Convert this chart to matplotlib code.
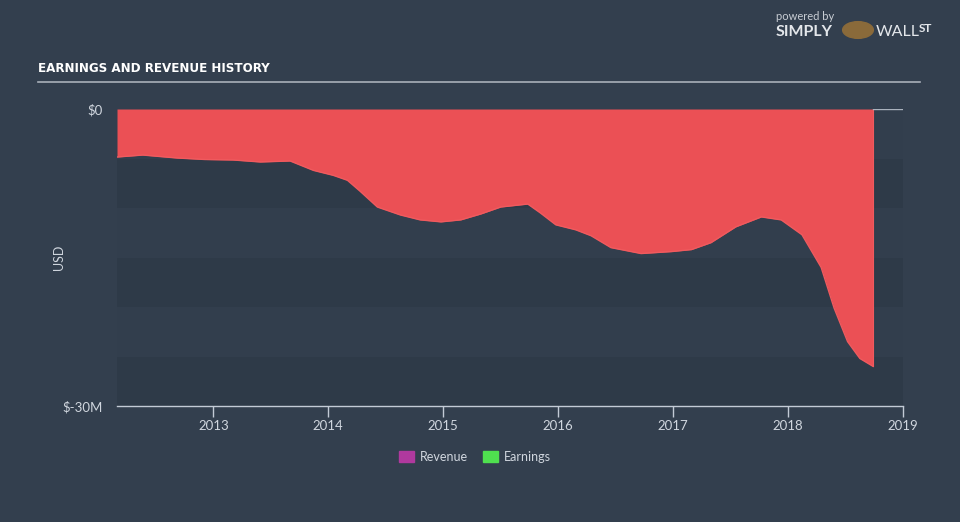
import matplotlib
matplotlib.use("Agg")
import matplotlib.pyplot as plt
import numpy as np
import pandas as pd

# ---- data (USD millions) ----
dates = ["2012-03-01", "2012-05-22", "2012-07-15", "2012-09-08", "2012-12-05",
         "2013-03-05", "2013-05-30", "2013-09-02", "2013-11-15", "2014-01-17",
         "2014-03-03", "2014-04-12", "2014-06-06", "2014-08-18", "2014-10-20",
         "2014-12-25", "2015-02-26", "2015-05-01", "2015-07-03", "2015-09-27",
         "2015-11-06", "2015-12-25", "2016-02-26", "2016-04-15", "2016-06-17",
         "2016-09-21", "2016-12-27", "2017-02-28", "2017-05-01", "2017-07-19",
         "2017-10-08", "2017-12-10", "2018-02-14", "2018-04-16", "2018-05-27",
         "2018-07-09", "2018-08-17", "2018-09-28"]
earnings = [-4.85, -4.65, -4.8, -4.95, -5.1,
            -5.15, -5.35, -5.25, -6.2, -6.7,
            -7.2, -8.3, -9.9, -10.7, -11.2,
            -11.4, -11.2, -10.6, -9.9, -9.6,
            -10.5, -11.7, -12.2, -12.8, -14.0,
            -14.6, -14.4, -14.2, -13.5, -11.9,
            -10.9, -11.2, -12.7, -16.0, -20.1,
            -23.5, -25.2, -26.0]
year_ticks = ["2013", "2014", "2015", "2016", "2017", "2018", "2019"]
y_ticks = [0, -30]
y_tick_labels = ["$0", "$-30M"]
legend_labels = ["Revenue", "Earnings"]
legend_colors = ["#b0399e", "#4fe04f"]

BG = "#333f4e"
BAND = "#2e3a48"
RED = "#eb5055"
TXT = "#d0d6de"

d = pd.to_datetime(dates)
x_start = pd.Timestamp("2012-03-01")
x_end = pd.Timestamp("2019-01-01")

fig = plt.figure(figsize=(9.6, 5.22), dpi=100, facecolor=BG)
ax = fig.add_axes([117/960, 1-406/522, (903-117)/960, (406-109)/522])
ax.set_facecolor("#323e4d")

# alternating bands
for lo in (-10, -20, -30):
    ax.axhspan(lo, lo + 5, color=BAND, lw=0, zorder=0)

ax.fill_between(d, 0, earnings, color=RED, lw=0, zorder=2)
ax.plot(d, earnings, color="#f05a5e", lw=1.0, zorder=3, solid_joinstyle="round")
ax.plot([d[-1], d[-1]], [0, earnings[-1]], color="#f05a5e", lw=0.8, zorder=3)
ax.plot([d[-1], x_end], [0, 0], color="#aab2bd", lw=1.0, zorder=3)

ax.set_xlim(x_start, x_end)
ax.set_ylim(-30, 0)

for s in ["top", "right", "left"]:
    ax.spines[s].set_visible(False)
ax.spines["bottom"].set_color("#c3cbd6")
ax.spines["bottom"].set_linewidth(1.0)

ax.set_xticks([pd.Timestamp(f"{y}-01-01") for y in year_ticks])
ax.set_xticklabels(year_ticks)
ax.tick_params(axis="x", colors="#c3cbd6", length=8, width=1, labelcolor=TXT,
               labelsize=9.5, pad=2)
ax.set_yticks(y_ticks)
ax.set_yticklabels(y_tick_labels)
ax.tick_params(axis="y", length=0, labelcolor=TXT, labelsize=9.5, pad=10)
for lab in ax.get_xticklabels() + ax.get_yticklabels():
    lab.set_family("Lato")

ax.set_ylabel("USD", color=TXT, fontsize=9, family="Lato")
ax.yaxis.set_label_coords((65 - 117) / 786, 0.5)

# title
fig.text(38/960, 1-68/522, "EARNINGS AND REVENUE HISTORY", color="white",
         fontsize=9.5, fontweight="bold", family="DejaVu Sans", stretch="condensed",
         va="center", ha="left")
fig.add_artist(plt.Line2D([38/960, 920/960], [1-82/522, 1-82/522],
                          color="#a9b0ba", lw=1.2, transform=fig.transFigure))

# logo text
fig.text(776/960, 1-17/522, "powered by", color="#c8cdd4", fontsize=8,
         family="Lato", va="center", ha="left")
fig.text(776/960, 1-32/522, "SIMPLY", color="#e4e7eb", fontsize=11.5,
         fontweight="bold", family="Lato", va="center", ha="left")
fig.text(876/960, 1-32/522, "WALL", color="#e4e7eb", fontsize=11.5,
         family="Lato", va="center", ha="left")
fig.text(919/960, 1-29/522, "ST", color="#e4e7eb", fontsize=8.5,
         fontweight="bold", family="Lato", va="center", ha="left")
fig.add_artist(plt.Circle((858/960, 1-30/522), 0.016, color="#8a6a3a",
                          transform=fig.transFigure))

# legend
lx = [399, 483]
for i, (lab, col) in enumerate(zip(legend_labels, legend_colors)):
    fig.add_artist(plt.Rectangle((lx[i]/960, 1-462/522), 15/960, 11/522,
                                 color=col, transform=fig.transFigure))
    fig.text((lx[i] + 21)/960, 1-457/522, lab, color=TXT, fontsize=9,
             family="Lato", va="center", ha="left")

fig.savefig("out.png", dpi=100, facecolor=BG)
